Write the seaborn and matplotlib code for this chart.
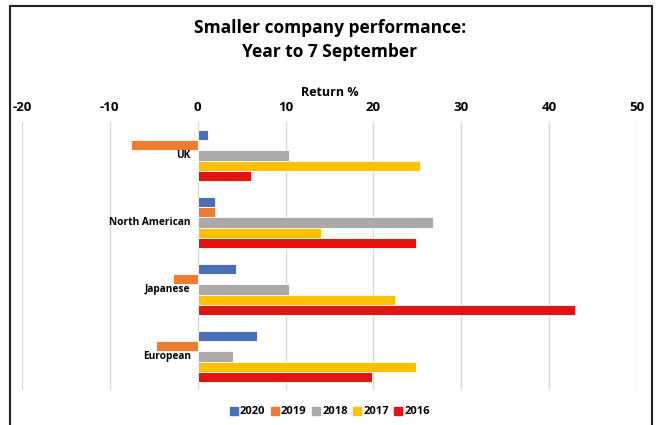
import matplotlib
matplotlib.use("Agg")
import matplotlib.pyplot as plt
import matplotlib.patches as mpatches
import seaborn as sns
import pandas as pd

# chart data
regions = ["UK", "North American", "Japanese", "European"]
years = ["2020", "2019", "2018", "2017", "2016"]
ret_2020 = [1.2, 2.0, 4.4, 6.8]
ret_2019 = [-7.6, 2.0, -2.8, -4.7]
ret_2018 = [10.4, 26.8, 10.4, 4.0]
ret_2017 = [25.3, 14.0, 22.5, 24.9]
ret_2016 = [6.1, 24.9, 42.9, 19.8]
colors = ["#4A6EB8", "#ED7D31", "#ADA9A8", "#FFC000", "#E31414"]

series = [ret_2020, ret_2019, ret_2018, ret_2017, ret_2016]
rows = []
for yr, vals in zip(years, series):
    for reg, v in zip(regions, vals):
        rows.append({"Region": reg, "Year": yr, "Return": v})
df = pd.DataFrame(rows)

sns.set_style("white")
plt.rcParams["font.family"] = ["Open Sans", "DejaVu Sans"]
plt.rcParams["axes.unicode_minus"] = False
plt.rcParams["text.color"] = "black"
plt.rcParams["xtick.color"] = "black"

fig = plt.figure(figsize=(6.56, 4.25), dpi=100)
ax = fig.add_axes([22 / 656, 1 - 390 / 425, 615 / 656, 268 / 425])

sns.barplot(data=df, x="Return", y="Region", hue="Year", order=regions,
            hue_order=years, palette=colors, saturation=1, orient="h", width=0.75,
            edgecolor="white", linewidth=0.6, ax=ax, legend=False)

ax.set_xlim(-20, 50)
ax.set_xticks(range(-20, 51, 10))
ax.xaxis.tick_top()
ax.tick_params(axis="x", length=0, pad=6, labelsize=9.5, labelcolor="black")
for lab in ax.get_xticklabels():
    lab.set_fontweight("bold")
ax.set_xlabel("")
ax.set_ylabel("")
ax.set_yticks([])
ax.grid(axis="x", color="#D9D9D9", linewidth=1)
ax.set_axisbelow(True)
for s in ax.spines.values():
    s.set_visible(False)

# category names next to the zero line
for i, reg in enumerate(regions):
    ax.text(-0.8, i, reg, ha="right", va="center", fontsize=7.3, fontweight="bold")

# titles
fig.text(0.503, 1 - 28 / 425, "Smaller company performance:", ha="center", va="center",
         fontsize=12.5, fontweight="bold")
fig.text(0.503, 1 - 52 / 425, "Year to 7 September", ha="center", va="center",
         fontsize=12.5, fontweight="bold")
fig.text(0.503, 1 - 92 / 425, "Return %", ha="center", va="center",
         fontsize=9, fontweight="bold")

# legend
handles = [mpatches.Patch(color=c, label=y) for c, y in zip(colors, years)]
fig.legend(handles=handles, loc="center", bbox_to_anchor=(0.503, 1 - 412 / 425),
           ncol=5, frameon=False, handlelength=0.7, handleheight=0.7,
           handletextpad=0.2, columnspacing=0.5, prop={"weight": "bold", "size": 8})

# border around the chart
fig.patches.append(mpatches.Rectangle((10 / 656, -0.05), 642 / 656, 1 - 6 / 425 + 0.05,
                                      transform=fig.transFigure, fill=False,
                                      edgecolor="#222222", linewidth=1.5))

fig.savefig("out.png", dpi=100)
